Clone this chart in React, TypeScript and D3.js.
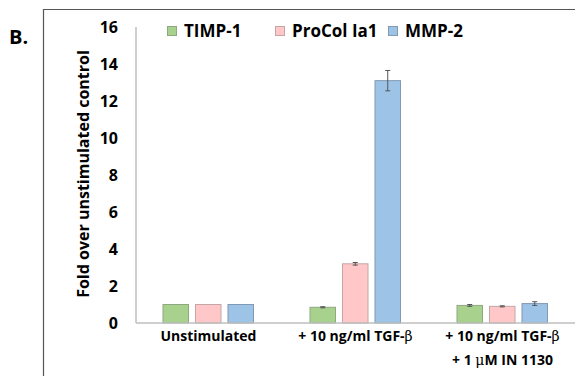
import { useEffect, useRef } from "react";
import * as d3 from "d3";

const groups = ["Unstimulated", "+ 10 ng/ml TGF-β", "+ 10 ng/ml TGF-β\n+ 1 μM IN 1130"];
const series = ["TIMP-1", "ProCol Ia1", "MMP-2"];
const timp1 = [1.0, 0.85, 0.95];
const procol = [1.0, 3.2, 0.9];
const mmp2 = [1.0, 13.1, 1.05];
const timp1Err = [0, 0.03, 0.05];
const procolErr = [0, 0.07, 0.03];
const mmp2Err = [0, 0.55, 0.1];
const yTicks = [0, 2, 4, 6, 8, 10, 12, 14, 16];

const colors = ["#a9d18e", "#ffc7c7", "#9dc3e6"];
const borders = ["#8fa882", "#c4a6a6", "#8299b3"];
const font = "'Open Sans', sans-serif";

export default function App() {
  const ref = useRef<SVGSVGElement>(null);

  useEffect(() => {
    const width = 575;
    const height = 376;
    const svg = d3.select(ref.current).attr("width", width).attr("height", height);
    svg.selectAll("*").remove();

    const values = [timp1, procol, mmp2];
    const errs = [timp1Err, procolErr, mmp2Err];

    // outer frame
    svg.append("path")
      .attr("d", "M43.5,380 V9.5 H580")
      .attr("fill", "none")
      .attr("stroke", "#555")
      .attr("stroke-width", 1.2);

    svg.append("text")
      .attr("x", 9)
      .attr("y", 44)
      .attr("font-family", font)
      .attr("font-weight", 700)
      .attr("font-size", 20)
      .text("B.");

    const y = d3.scaleLinear().domain([0, 16]).range([323, 27]);
    const x0 = d3.scaleBand<number>().domain(d3.range(groups.length)).range([135, 576]);
    const x1 = d3.scaleBand<number>()
      .domain(d3.range(series.length))
      .range([28, 118.5])
      .paddingInner(0.215);

    // y axis
    svg.append("line")
      .attr("x1", 136).attr("x2", 136)
      .attr("y1", y(16)).attr("y2", y(0))
      .attr("stroke", "#bfbfbf").attr("stroke-width", 1.5);

    svg.append("g")
      .selectAll("text")
      .data(yTicks)
      .join("text")
      .attr("x", 118)
      .attr("y", (d) => y(d))
      .attr("dy", "0.36em")
      .attr("text-anchor", "end")
      .attr("font-family", font)
      .attr("font-weight", 700)
      .attr("font-size", 16)
      .text((d) => d);

    svg.append("text")
      .attr("transform", `translate(89,174) rotate(-90)`)
      .attr("text-anchor", "middle")
      .attr("font-family", font)
      .attr("font-weight", 700)
      .attr("font-size", 16)
      .text("Fold over unstimulated control");

    // bars
    const g = svg.append("g");
    groups.forEach((_, gi) => {
      series.forEach((_, si) => {
        const v = values[si][gi];
        const e = errs[si][gi];
        const bx = (x0(gi) as number) + (x1(si) as number);
        const bw = x1.bandwidth();
        g.append("rect")
          .attr("x", bx)
          .attr("y", y(v))
          .attr("width", bw)
          .attr("height", y(0) - y(v))
          .attr("fill", colors[si])
          .attr("stroke", borders[si])
          .attr("stroke-width", 1);
        if (e > 0) {
          const cx = bx + bw / 2;
          g.append("line")
            .attr("x1", cx).attr("x2", cx)
            .attr("y1", y(v + e)).attr("y2", y(v - e))
            .attr("stroke", "#555").attr("stroke-width", 1);
          [v + e, v - e].forEach((t) => {
            g.append("line")
              .attr("x1", cx - 2.5).attr("x2", cx + 2.5)
              .attr("y1", y(t)).attr("y2", y(t))
              .attr("stroke", "#555").attr("stroke-width", 1);
          });
        }
      });
    });

    // x axis
    svg.append("line")
      .attr("x1", 136).attr("x2", 576)
      .attr("y1", y(0)).attr("y2", y(0))
      .attr("stroke", "#bfbfbf").attr("stroke-width", 1.5);

    groups.forEach((label, gi) => {
      const cx = (x0(gi) as number) + x0.bandwidth() / 2;
      label.split("\n").forEach((line, li) => {
        const t = svg.append("text")
          .attr("x", cx)
          .attr("y", 341 + li * 24)
          .attr("text-anchor", "middle")
          .attr("font-family", font)
          .attr("font-weight", 700)
          .attr("font-size", 14);
        // Greek letters rendered in a serif face, as in the original
        const parts = line.split(/([βμ])/);
        parts.forEach((p) => {
          if (!p) return;
          const ts = t.append("tspan").text(p);
          if (p === "β" || p === "μ") {
            ts.attr("font-family", "'DejaVu Serif', serif").attr("font-weight", 400);
          }
        });
      });
    });

    // legend
    const legendX = [167, 275, 388];
    const legend = svg.append("g");
    series.forEach((name, si) => {
      legend.append("rect")
        .attr("x", legendX[si] + 0.5)
        .attr("y", 26.5)
        .attr("width", 9)
        .attr("height", 9)
        .attr("fill", colors[si])
        .attr("stroke", borders[si]);
      legend.append("text")
        .attr("x", legendX[si] + 17)
        .attr("y", 36.5)
        .attr("font-family", font)
        .attr("font-weight", 700)
        .attr("font-size", 17)
        .text(name);
    });
  }, []);

  return (
    <svg
      ref={ref}
      style={{ position: "absolute", left: 0, top: 0, background: "#fff" }}
    />
  );
}
